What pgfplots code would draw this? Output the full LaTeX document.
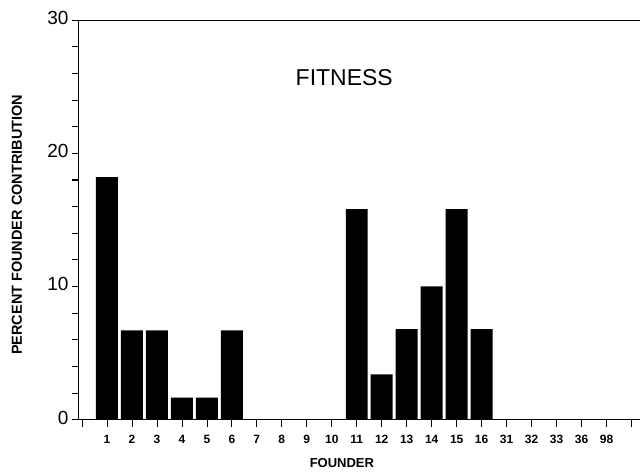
\documentclass[border=0pt]{standalone}
\usepackage{pgfplots}
\pgfplotsset{compat=1.18}
\usepackage{fontspec}
\setmainfont{Liberation Sans}
\begin{document}
\begin{tikzpicture}
\begin{axis}[
  scale only axis, width=561pt, height=400pt,
  xmin=-0.12, xmax=22.32, ymin=0, ymax=30,
  axis line style={draw=none},
  clip=false,
  xtick={0,1,2,3,4,5,6,7,8,9,10,11,12,13,14,15,16,17,18,19,20,21,22},
  xticklabels={,1,2,3,4,5,6,7,8,9,10,11,12,13,14,15,16,31,32,33,36,98,},
  tick pos=left,
  tick align=outside, major tick length=7pt, minor tick length=7pt,
  every tick/.style={line width=0.7pt, black},
  ytick={0,10,20,30},
  minor ytick={2,4,6,8,12,14,16,18,22,24,26,28},
  /pgf/number format/assume math mode=true,
  yticklabel style={font=\fontsize{19}{19}\selectfont, yshift=2pt},
  xticklabel style={font=\fontsize{12}{12}\selectfont\bfseries, yshift=-5pt},
  xlabel={FOUNDER}, ylabel={PERCENT FOUNDER CONTRIBUTION},
  xlabel style={font=\fontsize{13}{13}\selectfont\bfseries, at={(axis description cs:0.469,-0.1075)}, anchor=center},
  ylabel style={font=\fontsize{14.5}{14.5}\selectfont\bfseries, at={(axis description cs:-0.1105,0.4875)}, anchor=center},
]
\addplot[ybar, bar width=22pt, fill=black, draw=none] coordinates {
  (1,18.2) (2,6.7) (3,6.7) (4,1.65) (5,1.65) (6,6.7)
  (11,15.8) (12,3.4) (13,6.8) (14,10.0) (15,15.8) (16,6.8)
};
\draw[line width=0.9pt] (rel axis cs:1,0) -- (rel axis cs:0,0) -- (rel axis cs:0,1) -- (rel axis cs:1,1);
\pgfplotsinvokeforeach{0,2,4,6,8,10,12,14,16,18,20,22,24,26,28,30}{
  \draw[line width=0.8pt] (axis cs:-0.12,#1) -- ++(-7pt,0pt);
}
\node[font=\fontsize{23}{23}\selectfont] at (axis cs:10.5,25.7) {FITNESS};
\end{axis}
\path[use as bounding box] ([xshift=-79pt,yshift=-56pt]current axis.south west) rectangle ([yshift=20pt]current axis.north east);
\end{tikzpicture}
\end{document}
